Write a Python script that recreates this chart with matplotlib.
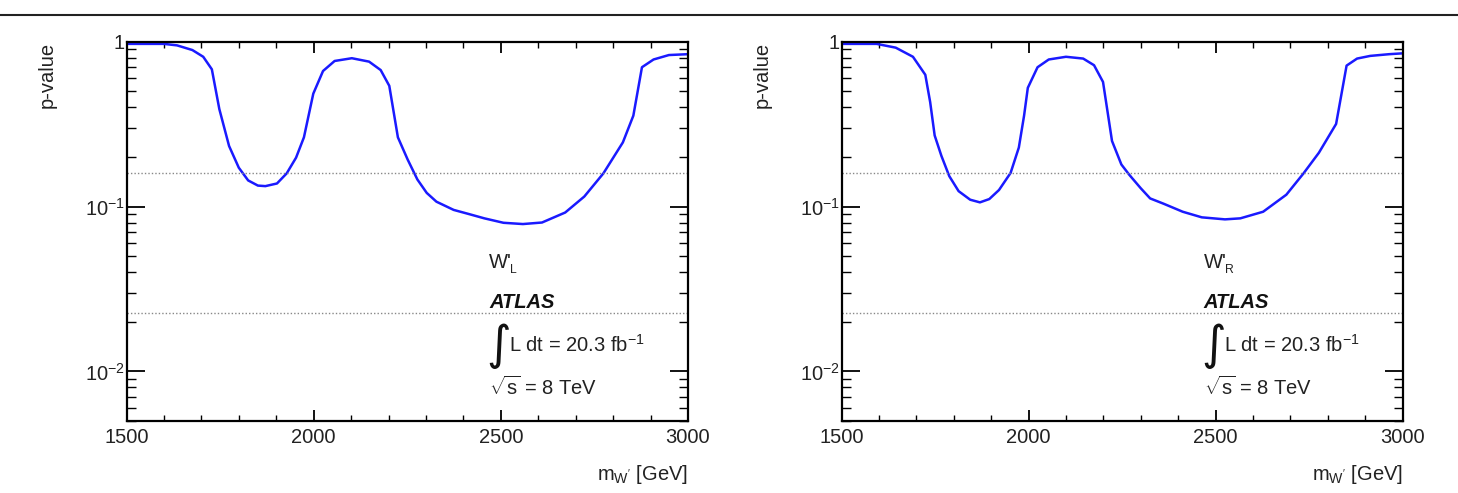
import numpy as np
import matplotlib
matplotlib.use("Agg")
import matplotlib.pyplot as plt
from matplotlib.lines import Line2D
from matplotlib.ticker import FixedLocator, NullFormatter, FixedFormatter

plt.rcParams['font.family'] = ['Liberation Sans', 'DejaVu Sans']
plt.rcParams['mathtext.fontset'] = 'custom'
plt.rcParams['mathtext.rm'] = 'Liberation Sans'
plt.rcParams['mathtext.it'] = 'Liberation Sans:italic'
plt.rcParams['mathtext.bf'] = 'Liberation Sans:bold'

# ---------------- data ----------------
mass_L = [1500, 1600, 1635, 1676, 1705, 1728, 1748, 1774, 1800, 1825, 1851, 1871,
          1902, 1928, 1953, 1974, 1999, 2025, 2056, 2102, 2148, 2179, 2202, 2225,
          2251, 2277, 2302, 2328, 2374, 2415, 2456, 2507, 2559, 2610, 2672, 2723,
          2774, 2826, 2854, 2877, 2908, 2949, 3000]
pval_L = [0.97, 0.97, 0.95, 0.89, 0.81, 0.68, 0.39, 0.233, 0.172, 0.144, 0.134, 0.133,
          0.138, 0.159, 0.198, 0.263, 0.484, 0.664, 0.764, 0.794, 0.757, 0.673, 0.54, 0.263,
          0.193, 0.146, 0.121, 0.107, 0.0954, 0.090, 0.0848, 0.0797, 0.0783, 0.080, 0.092, 0.115,
          0.159, 0.245, 0.356, 0.70, 0.78, 0.83, 0.84]

mass_R = [1500, 1594, 1645, 1691, 1724, 1737, 1749, 1767, 1788, 1813, 1844, 1870,
          1895, 1921, 1952, 1974, 1988, 1998, 2024, 2054, 2100, 2146, 2175, 2199,
          2223, 2248, 2269, 2300, 2325, 2361, 2412, 2463, 2525, 2566, 2627, 2689,
          2735, 2776, 2822, 2850, 2878, 2913, 2964, 3000]
pval_R = [0.97, 0.97, 0.92, 0.81, 0.63, 0.43, 0.27, 0.203, 0.153, 0.124, 0.110, 0.106,
          0.111, 0.126, 0.160, 0.228, 0.356, 0.525, 0.70, 0.78, 0.81, 0.79, 0.72, 0.57,
          0.25, 0.18, 0.156, 0.129, 0.112, 0.104, 0.093, 0.086, 0.0836, 0.0848, 0.093, 0.118,
          0.159, 0.212, 0.317, 0.716, 0.79, 0.82, 0.84, 0.85]

sigma_levels = [0.1587, 0.02275]
x_major = [1500, 2000, 2500, 3000]
x_minor = list(range(1500, 3001, 100))
y_major = [1e-2, 1e-1, 1]
y_major_labels = [r'10$^{\mathregular{-2}}$', r'10$^{\mathregular{-1}}$', '1']
y_minor = [m * 10.0 ** e for e in (-3, -2, -1) for m in range(2, 10)]
panel_labels = ['L', 'R']

# ---------------- figure ----------------
W, H = 1458, 493
fig = plt.figure(figsize=(W / 100, H / 100), dpi=100)

ax_boxes = [[126.5, 421, 561.5, 379.3], [841.5, 421, 561.2, 379.3]]
series = [(mass_L, pval_L), (mass_R, pval_R)]
FS = 14.5
TC = '#222222'

# top rule
fig.add_artist(Line2D([0, 1], [1 - 15 / H, 1 - 15 / H], transform=fig.transFigure,
                      color='#222222', lw=1.5))

for (x0, yb, w, h), (m, p), lab in zip(ax_boxes, series, panel_labels):
    ax = fig.add_axes([x0 / W, (H - yb) / H, w / W, h / H])
    ax.set_yscale('log')
    ax.plot(m, p, color='#1a1aff', lw=1.8, solid_joinstyle='round')
    for s in sigma_levels:
        ax.axhline(s, color='#888888', lw=1.0, ls=(0, (1, 1.5)))
    ax.set_xlim(1500, 3000)
    ax.set_ylim(0.005, 1.0)

    ax.xaxis.set_major_locator(FixedLocator(x_major))
    ax.xaxis.set_minor_locator(FixedLocator(x_minor))
    ax.yaxis.set_major_locator(FixedLocator(y_major))
    ax.yaxis.set_major_formatter(FixedFormatter(y_major_labels))
    ax.yaxis.set_minor_locator(FixedLocator(y_minor))
    ax.yaxis.set_minor_formatter(NullFormatter())

    ax.tick_params(axis='both', which='both', direction='in', top=True, right=True,
                   colors='black', labelsize=FS, labelcolor=TC)
    ax.tick_params(axis='x', which='major', length=8, width=1.3, pad=5)
    ax.tick_params(axis='x', which='minor', length=4, width=1.0)
    ax.tick_params(axis='y', which='major', length=13, width=1.3, pad=1)
    ax.tick_params(axis='y', which='minor', length=6.5, width=1.0)
    for sp in ax.spines.values():
        sp.set_linewidth(1.6)

    ax.set_ylabel('p-value', fontsize=FS, color=TC, loc='top')
    ax.yaxis.set_label_coords(-0.125, 1.0)
    ax.set_xlabel(r"m$_{\mathregular{W'}}$ [GeV]", fontsize=FS, color=TC, loc='right')
    ax.xaxis.set_label_coords(1.0, -0.11)

    tx = 0.6456
    ax.text(tx, 0.403, "W'", transform=ax.transAxes, fontsize=FS, color=TC)
    ax.text(tx + 0.037, 0.39, lab, transform=ax.transAxes, fontsize=FS * 0.6, color=TC)
    ax.text(tx, 0.298, 'ATLAS', transform=ax.transAxes, fontsize=FS, fontweight='bold',
            fontstyle='italic', color='#111111')
    ax.text(tx - 0.005, 0.163, '\u222b', transform=ax.transAxes, fontsize=34,
            family='DejaVu Sans', color='#111111')
    ax.text(tx + 0.036, 0.182, r'L dt = 20.3 fb$^{\mathregular{-1}}$', transform=ax.transAxes,
            fontsize=FS, color=TC)
    ax.text(tx, 0.0686, r'$\sqrt{\mathregular{s}}$ = 8 TeV', transform=ax.transAxes,
            fontsize=FS, color=TC)

fig.savefig('out.png', dpi=100)
